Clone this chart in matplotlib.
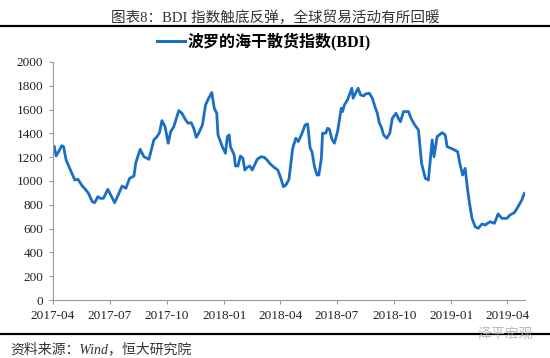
import matplotlib
matplotlib.use("Agg")
import matplotlib.pyplot as plt
import matplotlib.dates as mdates
import pandas as pd

# BDI readings
dates = ["2017-04-03", "2017-04-06", "2017-04-10", "2017-04-15", "2017-04-18", "2017-04-22",
         "2017-04-29", "2017-05-06", "2017-05-11", "2017-05-18", "2017-05-23", "2017-05-28",
         "2017-06-03", "2017-06-07", "2017-06-12", "2017-06-16", "2017-06-21", "2017-06-28",
         "2017-07-04", "2017-07-09", "2017-07-14", "2017-07-21", "2017-07-27", "2017-08-02",
         "2017-08-09", "2017-08-12", "2017-08-19", "2017-08-25", "2017-09-02", "2017-09-10",
         "2017-09-15", "2017-09-19", "2017-09-23", "2017-09-28", "2017-10-03", "2017-10-07",
         "2017-10-12", "2017-10-20", "2017-10-25", "2017-10-31", "2017-11-04", "2017-11-09",
         "2017-11-13", "2017-11-17", "2017-11-21", "2017-11-27", "2017-12-02", "2017-12-07",
         "2017-12-12", "2017-12-16", "2017-12-20", "2017-12-22", "2017-12-29", "2018-01-03",
         "2018-01-06", "2018-01-09", "2018-01-11", "2018-01-17", "2018-01-19", "2018-01-23",
         "2018-01-27", "2018-01-31", "2018-02-03", "2018-02-07", "2018-02-11", "2018-02-15",
         "2018-02-23", "2018-03-01", "2018-03-06", "2018-03-11", "2018-03-15", "2018-03-22",
         "2018-03-28", "2018-04-02", "2018-04-06", "2018-04-10", "2018-04-15", "2018-04-21",
         "2018-04-26", "2018-04-30", "2018-05-06", "2018-05-11", "2018-05-15", "2018-05-19",
         "2018-05-22", "2018-05-26", "2018-05-30", "2018-06-02", "2018-06-06", "2018-06-08",
         "2018-06-13", "2018-06-16", "2018-06-19", "2018-06-23", "2018-06-27", "2018-07-02",
         "2018-07-08", "2018-07-10", "2018-07-13", "2018-07-18", "2018-07-22", "2018-07-25",
         "2018-07-27", "2018-07-31", "2018-08-04", "2018-08-08", "2018-08-13", "2018-08-16",
         "2018-08-22", "2018-08-27", "2018-08-31", "2018-09-04", "2018-09-07", "2018-09-11",
         "2018-09-14", "2018-09-19", "2018-09-24", "2018-09-28", "2018-10-04", "2018-10-09",
         "2018-10-11", "2018-10-16", "2018-10-24", "2018-10-28", "2018-11-03", "2018-11-09",
         "2018-11-14", "2018-11-20", "2018-11-25", "2018-12-01", "2018-12-04", "2018-12-09",
         "2018-12-17", "2018-12-22", "2018-12-25", "2019-01-04", "2019-01-11", "2019-01-15",
         "2019-01-19", "2019-01-23", "2019-01-27", "2019-01-30", "2019-02-03", "2019-02-08",
         "2019-02-13", "2019-02-19", "2019-02-24", "2019-03-04", "2019-03-11", "2019-03-17",
         "2019-03-23", "2019-03-31", "2019-04-05", "2019-04-12", "2019-04-18", "2019-04-24",
         "2019-04-28"]
bdi = [1288, 1210, 1246, 1297, 1288, 1176,
       1092, 1008, 1014, 958, 930, 896,
       826, 818, 868, 854, 854, 930,
       868, 818, 874, 958, 938, 1022,
       1042, 1154, 1266, 1204, 1182, 1345,
       1372, 1406, 1507, 1456, 1317, 1414,
       1456, 1591, 1569, 1513, 1485, 1490,
       1443, 1366, 1401, 1471, 1639, 1695,
       1743, 1611, 1569, 1387, 1288, 1233,
       1373, 1387, 1288, 1218, 1126, 1126,
       1210, 1190, 1092, 1115, 1126, 1092,
       1182, 1204, 1199, 1176, 1148, 1115,
       1092, 1022, 952, 966, 1014, 1275,
       1359, 1331, 1401, 1471, 1479, 1275,
       1246, 1120, 1050, 1050, 1190, 1401,
       1401, 1443, 1434, 1350, 1317, 1414,
       1611, 1583, 1639, 1681, 1737, 1779,
       1695, 1737, 1779, 1723, 1714, 1731,
       1737, 1695, 1625, 1569, 1490, 1443,
       1387, 1359, 1401, 1527, 1569, 1513,
       1498, 1583, 1583, 1527, 1471, 1428,
       1148, 1022, 1008, 1345, 1204, 1373,
       1406, 1387, 1288, 1266, 1246, 1134,
       1050, 1106, 924, 812, 686, 616,
       602, 639, 630, 658, 644, 723,
       686, 686, 714, 734, 784, 840,
       896]
tick_dates = ["2017-04", "2017-07", "2017-10", "2018-01", "2018-04",
              "2018-07", "2018-10", "2019-01", "2019-04"]
y_ticks = [0, 200, 400, 600, 800, 1000, 1200, 1400, 1600, 1800, 2000]

title = "图表8：BDI 指数触底反弹，全球贸易活动有所回暖"
series_name = "波罗的海干散货指数(BDI)"
source = "资料来源：Wind，恒大研究院"

mixed = ["Liberation Serif", "Noto Sans CJK SC"]
line_color = "#1a6fc4"

fig = plt.figure(figsize=(5.5, 3.58), dpi=100)
ax = fig.add_axes([0.0964, 0.162, 0.858, 0.665])

x = pd.to_datetime(dates)
ax.plot(x, bdi, color=line_color, lw=2.0, solid_joinstyle="round")

ax.set_ylim(0, 2000)
ax.set_yticks(y_ticks)
ax.set_xlim(pd.Timestamp("2017-04-01"), pd.Timestamp("2019-04-29"))
ticks = pd.to_datetime([d + "-01" for d in tick_dates])
ax.set_xticks(ticks)
ax.xaxis.set_major_formatter(mdates.DateFormatter("%Y-%m"))

for s in ["top", "right"]:
    ax.spines[s].set_visible(False)
for s in ["left", "bottom"]:
    ax.spines[s].set_color("#999999")
    ax.spines[s].set_linewidth(0.8)
ax.tick_params(axis="both", colors="#999999", length=3, width=0.8, labelcolor="#222222",
               labelsize=9.5, pad=4)
for lbl in ax.get_xticklabels() + ax.get_yticklabels():
    lbl.set_family("Liberation Serif")

# title and rules
fig.text(0.5, 1 - 18 / 358, title, ha="center", va="center", fontsize=10.5,
         family=mixed, color="#333333")
fig.add_artist(plt.Line2D([0, 1], [1 - 26 / 358] * 2, color="black", lw=1.6))
fig.add_artist(plt.Line2D([0, 1], [1 - 334 / 358] * 2, color="black", lw=1.6))

# legend
ly = 1 - 41 / 358
fig.add_artist(plt.Line2D([157 / 550, 185 / 550], [ly, ly], color=line_color, lw=2.2))
fig.text(188 / 550, ly, series_name, ha="left", va="center", fontsize=11.5,
         fontweight="bold", family=mixed, color="black")

# source note
fig.text(10 / 550, 1 - 349 / 358, source, ha="left", va="center", fontsize=10,
         style="italic", family=mixed, color="#333333")
fig.text(478 / 550, 1 - 334 / 358, "泽平宏观", ha="left", va="center", fontsize=10,
         family=mixed, color="#aaaaaa", alpha=0.8)

fig.savefig("out.png", dpi=100)
